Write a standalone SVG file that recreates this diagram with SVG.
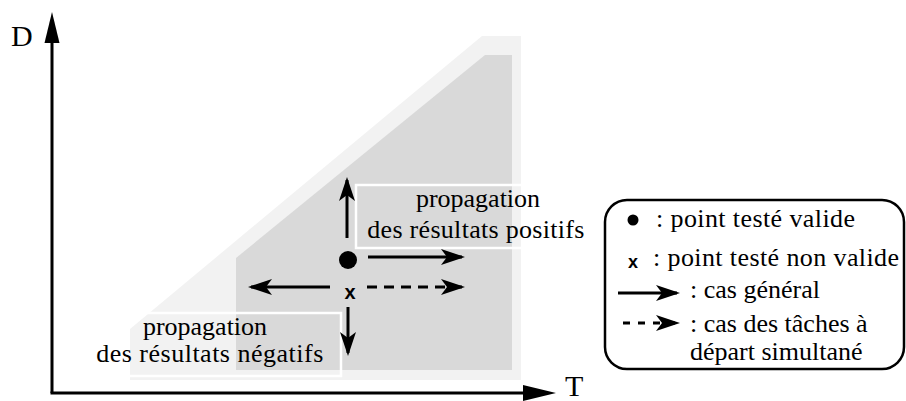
<svg xmlns="http://www.w3.org/2000/svg" width="906" height="401" viewBox="0 0 906 401">
  <style>
    .serif { font-family: "Liberation Serif", "Times New Roman", serif; fill: #000; }
    .shaft { stroke: #000; stroke-width: 3; fill: none; marker-end: url(#barb); }
    .dash { stroke-dasharray: 10 7; }
    .ldash { stroke-dasharray: 7 8; }
    .frame { fill: none; stroke: #fff; stroke-width: 2.5; }
  </style>
  <defs>
    <marker id="barb" markerUnits="userSpaceOnUse" viewBox="0 0 24 16" markerWidth="24" markerHeight="16" refX="21" refY="8" orient="auto">
      <path d="M0,0 L24,8 L0,16 L6,8 Z" fill="#000"/>
    </marker>
  </defs>

  <rect width="906" height="401" fill="#fff"/>

  <!-- feasible region: outer band and inner zone -->
  <g id="region">
    <polygon points="482,36 521,36 521,380 130,380 130,329" fill="#f2f2f2"/>
    <polygon points="485,55 512,55 512,370 236,370 236,258" fill="#d9d9d9"/>
  </g>

  <!-- axes -->
  <g id="axes">
    <line x1="52" y1="393" x2="52" y2="40" stroke="#000" stroke-width="3"/>
    <polygon points="52,12 44.5,43 59.5,43" fill="#000"/>
    <line x1="50.5" y1="393" x2="526" y2="393" stroke="#000" stroke-width="3"/>
    <polygon points="556,393 523,385 523,401" fill="#000"/>
    <text class="serif" x="11" y="46" font-size="30">D</text>
    <text class="serif" x="565" y="396" font-size="30">T</text>
  </g>

  <!-- label boxes -->
  <g id="positive">
    <rect class="frame" x="356" y="185" width="236" height="63"/>
    <text class="serif" x="478" y="207" font-size="26" text-anchor="middle">propagation</text>
    <text class="serif" x="476" y="238" font-size="26" text-anchor="middle" letter-spacing="0.3">des résultats positifs</text>
  </g>
  <g id="negative">
    <rect class="frame" x="94" y="313" width="247" height="63"/>
    <text class="serif" x="205" y="335" font-size="26" text-anchor="middle">propagation</text>
    <text class="serif" x="210" y="362" font-size="26" text-anchor="middle" letter-spacing="0.5">des résultats négatifs</text>
  </g>

  <!-- tested points -->
  <g id="valid-point">
    <circle cx="348" cy="260" r="9" fill="#000"/>
  </g>
  <g id="invalid-point">
    <text x="350" y="299" text-anchor="middle" font-family="Liberation Sans, Arial, sans-serif" font-size="20" font-weight="bold" fill="#000">x</text>
  </g>

  <!-- propagation arrows -->
  <g id="connectors">
    <line class="shaft" x1="347" y1="238" x2="347" y2="180"/>
    <line class="shaft" x1="368" y1="257" x2="462" y2="257"/>
    <line class="shaft" x1="330" y1="287" x2="251" y2="287"/>
    <line class="shaft dash" x1="367" y1="287" x2="462" y2="287"/>
    <line class="shaft" x1="348" y1="307" x2="348" y2="353"/>
  </g>

  <!-- legend -->
  <g id="legend">
    <rect x="605" y="200" width="299" height="169" rx="22" ry="22" fill="none" stroke="#000" stroke-width="2.5"/>
    <circle cx="633" cy="220" r="5.5" fill="#000"/>
    <text class="serif" x="656" y="227" font-size="26" letter-spacing="0.4">: point testé valide</text>
    <text x="633" y="268" text-anchor="middle" font-family="Liberation Sans, Arial, sans-serif" font-size="18" font-weight="bold" fill="#000">x</text>
    <text class="serif" x="653" y="266" font-size="26" letter-spacing="0.4">: point testé non valide</text>
    <line class="shaft" x1="618" y1="293" x2="677" y2="293"/>
    <text class="serif" x="690" y="298" font-size="26">: cas général</text>
    <line class="shaft ldash" x1="623" y1="323" x2="677" y2="323"/>
    <text class="serif" x="690" y="332" font-size="26">: cas des tâches à</text>
    <text class="serif" x="690" y="360" font-size="26">départ simultané</text>
  </g>
</svg>
